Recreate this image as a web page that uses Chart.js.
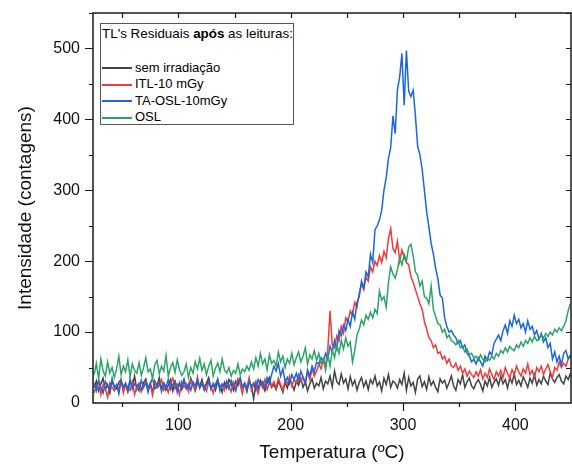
<!DOCTYPE html>
<html>
<head>
<meta charset="utf-8">
<script src="https://cdn.jsdelivr.net/npm/chart.js@4"></script>
<style>
body{margin:0;background:#fff;}
#wrap{position:relative;width:572px;height:464px;}
#legend{position:absolute;left:100px;top:23px;width:192px;height:100px;border:1px solid #555;background:#fff;
  font-family:"Liberation Sans",Arial,sans-serif;font-size:13px;color:#000;}
#legend .title{font-size:13.4px;line-height:16px;padding:2px 0 0 1px;white-space:nowrap;}
#legend ul{list-style:none;margin:17.5px 0 0 0;padding:0;}
#legend li{height:16.5px;line-height:16.5px;white-space:nowrap;}
#legend .swatch{display:inline-block;width:30px;height:2px;margin:0 3px 0 1px;vertical-align:middle;}
</style>
</head>
<body>
<div id="wrap">
<canvas id="c" width="572" height="464"></canvas>
<div id="legend"></div>
</div>
<script>
// ---------- Data ----------

const temperatura = [
25,27,29,31,33,35,37,39,41,43,
45,47,49,51,53,55,57,59,61,63,
65,67,69,71,73,75,77,79,81,83,
85,87,89,91,93,95,97,99,101,103,
105,107,109,111,113,115,117,119,121,123,
125,127,129,131,133,135,137,139,141,143,
145,147,149,151,153,155,157,159,161,163,
165,167,169,171,173,175,177,179,181,183,
185,187,189,191,193,195,197,199,201,203,
205,207,209,211,213,215,217,219,221,223,
225,227,229,231,233,235,237,239,241,243,
245,247,249,251,253,255,257,259,261,263,
265,267,269,271,273,275,277,279,281,283,
285,287,289,291,293,295,297,299,301,303,
305,307,309,311,313,315,317,319,321,323,
325,327,329,331,333,335,337,339,341,343,
345,347,349,351,353,355,357,359,361,363,
365,367,369,371,373,375,377,379,381,383,
385,387,389,391,393,395,397,399,401,403,
405,407,409,411,413,415,417,419,421,423,
425,427,429,431,433,435,437,439,441,443,
445,447,449
];

const semIrradiacao = [
22,31,17,27,35,19,26,14,30,24,
20,29,33,21,26,16,31,23,38,19,
27,18,29,34,21,28,15,31,24,36,
20,28,18,25,33,17,30,22,27,19,
31,24,21,35,26,17,29,23,33,20,
28,36,22,26,18,30,25,15,29,21,
33,27,18,31,25,35,22,28,16,30,
24,6,27,20,32,25,17,28,36,22,
26,19,30,24,15,29,21,33,27,18,
31,25,35,22,30,17,27,34,21,28,
24,36,20,31,27,38,23,45,30,26,
41,28,34,20,37,25,32,18,29,36,
23,31,19,33,27,38,24,30,17,35,
26,40,22,31,28,21,33,26,42,18,
36,24,29,15,34,38,23,30,19,37,
25,31,22,16,34,28,32,21,29,38,
24,18,33,27,40,22,30,35,24,20,
28,33,26,17,31,24,36,22,29,34,
25,38,27,33,21,36,28,41,26,32,
24,37,30,22,35,28,40,25,33,27,
38,31,26,42,34,29,36,40,31,27,
38,33,42
];

const itl10 = [
14,25,31,12,26,20,8,28,22,17,
25,19,33,14,27,22,18,30,12,24,
28,16,23,31,19,26,11,29,21,25,
33,18,24,15,28,35,20,26,12,30,
22,27,16,32,24,19,37,21,28,25,
17,30,23,14,27,33,20,26,18,31,
24,16,29,20,34,26,13,28,22,36,
18,25,31,14,27,22,33,19,28,24,
30,21,35,26,18,32,27,38,24,33,
28,40,31,36,27,44,33,48,38,45,
55,48,62,52,75,130,82,78,95,88,
108,98,120,115,130,124,142,135,155,168,
160,178,172,192,185,200,194,208,198,214,
205,232,246,218,212,228,200,216,205,198,
195,178,170,160,150,140,132,115,104,92,
88,78,82,70,72,62,66,56,62,52,
50,56,46,52,42,48,38,45,40,36,
44,38,47,34,42,36,48,40,33,44,
38,46,36,50,42,35,47,40,52,44,
38,48,42,55,40,46,36,50,44,52,
40,48,54,44,36,50,46,58,50,56,
52,62,66
];

const taOsl10 = [
28,17,33,22,14,30,24,19,35,21,
26,13,31,23,28,17,34,20,27,24,
17,32,22,29,15,27,35,20,24,30,
16,28,23,33,19,26,31,15,29,22,
34,20,27,18,30,24,33,21,28,18,
26,31,19,28,22,34,17,27,23,30,
20,32,24,17,29,35,22,27,19,31,
24,28,18,33,26,30,22,36,28,40,
52,45,56,38,48,30,36,27,40,33,
42,30,45,36,28,47,38,52,44,58,
55,64,58,70,62,80,72,88,76,102,
95,110,102,118,108,128,118,142,150,172,
162,185,178,210,198,244,250,258,272,300,
318,345,360,405,380,442,460,493,420,497,
440,432,441,405,362,350,330,300,270,248,
225,210,190,175,152,148,120,108,100,102,
96,92,84,88,78,82,70,66,58,62,
55,64,58,52,66,60,72,68,84,90,
96,88,102,110,98,116,108,124,112,118,
106,112,100,116,104,108,96,102,90,98,
86,92,78,84,62,72,58,66,54,70,
74,62,68
];

const osl = [
40,56,34,62,45,38,58,42,50,36,
48,66,40,52,44,61,37,55,46,42,
57,39,50,64,44,48,35,54,60,41,
52,45,67,38,50,57,43,61,47,39,
44,55,36,50,42,58,48,63,46,55,
40,52,60,38,49,56,44,62,47,42,
50,38,46,42,55,40,48,44,52,46,
58,48,64,52,70,55,62,47,68,56,
60,52,72,58,66,50,62,56,70,54,
64,72,58,66,78,55,68,62,74,60,
70,56,62,46,68,52,75,64,82,70,
88,76,92,80,86,58,74,96,104,117,
110,124,118,128,120,132,126,158,145,150,
135,170,192,182,176,188,205,195,210,200,
220,224,208,185,180,165,172,150,148,140,
165,132,122,112,110,100,104,92,96,88,
86,82,88,78,80,72,76,68,70,64,
66,60,68,62,58,64,60,66,62,70,
66,74,70,78,72,80,76,74,82,78,
86,80,88,84,92,86,94,88,90,96,
92,98,94,100,96,104,100,106,102,108,
116,130,140
];

const xTicks = [100,200,300,400];
const yTicks = [0,100,200,300,400,500];

// ---------- Chart ----------

function pts(vals){
  return temperatura.map((t,i)=>({x:t,y:vals[i]}));
}

const FONT = "'Liberation Sans', Arial, sans-serif";

// frame + tick marks (Origin style)
const framePlugin = {
  id:'frame',
  afterDraw(chart){
    const {ctx, chartArea:a, scales:{x, y}} = chart;
    ctx.save();
    ctx.strokeStyle = '#1a1a1a';
    ctx.lineWidth = 1.5;
    ctx.strokeRect(a.left, a.top, a.right - a.left, a.bottom - a.top);
    ctx.lineWidth = 1.2;
    ctx.beginPath();
    for (let v = 50; v <= 450; v += 50) {
      const px = Math.round(x.getPixelForValue(v)) + 0.5;
      if (px < a.left || px > a.right) continue;
      const len = v % 100 === 0 ? 8 : 4;
      ctx.moveTo(px, a.bottom); ctx.lineTo(px, a.bottom + len);
      ctx.moveTo(px, a.top); ctx.lineTo(px, a.top + 5);
    }
    for (let v = 0; v <= 550; v += 50) {
      const py = Math.round(y.getPixelForValue(v)) + 0.5;
      if (py < a.top || py > a.bottom) continue;
      const len = v % 100 === 0 ? 8 : 4;
      ctx.moveTo(a.left, py); ctx.lineTo(a.left - len, py);
      ctx.moveTo(a.right, py); ctx.lineTo(a.right - 5, py);
    }
    ctx.stroke();
    ctx.restore();
  }
};

const chart = new Chart(document.getElementById('c'), {
  type:'line',
  data:{
    datasets:[
      {label:'sem irradiação', data:pts(semIrradiacao), borderColor:'#444444', order:4},
      {label:'ITL-10 mGy', data:pts(itl10), borderColor:'#ef3b3b', order:3},
      {label:'TA-OSL-10mGy', data:pts(taOsl10), borderColor:'#1b66df', order:2},
      {label:'OSL', data:pts(osl), borderColor:'#2ba466', order:1}
    ]
  },
  options:{
    responsive:false,
    animation:false,
    elements:{
      point:{radius:0},
      line:{borderWidth:1.5, tension:0}
    },
    layout:{padding:{left:0, right:1, top:13, bottom:0}},
    plugins:{legend:{display:false}, tooltip:{enabled:false}},
    scales:{
      x:{
        type:'linear',
        min:24, max:449.5,
        afterBuildTicks:(s)=>{ s.ticks = xTicks.map(v=>({value:v})); },
        afterFit:(s)=>{ s.height = 61; s.paddingLeft = 0; s.paddingRight = 0; },
        grid:{display:false, drawTicks:false},
        border:{display:false},
        ticks:{color:'#111', font:{family:FONT, size:16, weight:'normal'}, padding:13, maxRotation:0},
        title:{display:true, text:'Temperatura (ºC)', color:'#111',
               font:{family:FONT, size:19, weight:'normal'}, padding:{top:0, bottom:0}}
      },
      y:{
        type:'linear',
        min:0, max:550,
        afterBuildTicks:(s)=>{ s.ticks = yTicks.map(v=>({value:v})); },
        afterFit:(s)=>{ s.width = 93; s.paddingTop = 0; s.paddingBottom = 0; },
        grid:{display:false, drawTicks:false},
        border:{display:false},
        ticks:{color:'#111', font:{family:FONT, size:16, weight:'normal'}, padding:13},
        title:{display:true, text:'Intensidade (contagens)', color:'#111',
               font:{family:FONT, size:19, weight:'normal'}, padding:{top:14.5, bottom:0}}
      }
    }
  },
  plugins:[framePlugin]
});

// ---------- Legend ----------

const legend = document.getElementById('legend');
legend.innerHTML = '<div class="title">TL\'s Residuais <b>após</b> as leituras:</div>';
const ul = document.createElement('ul');
chart.data.datasets.forEach(ds=>{
  const li = document.createElement('li');
  li.innerHTML = '<span class="swatch" style="background:' + ds.borderColor + '"></span>' + ds.label;
  ul.appendChild(li);
});
legend.appendChild(ul);
</script>
</body>
</html>
